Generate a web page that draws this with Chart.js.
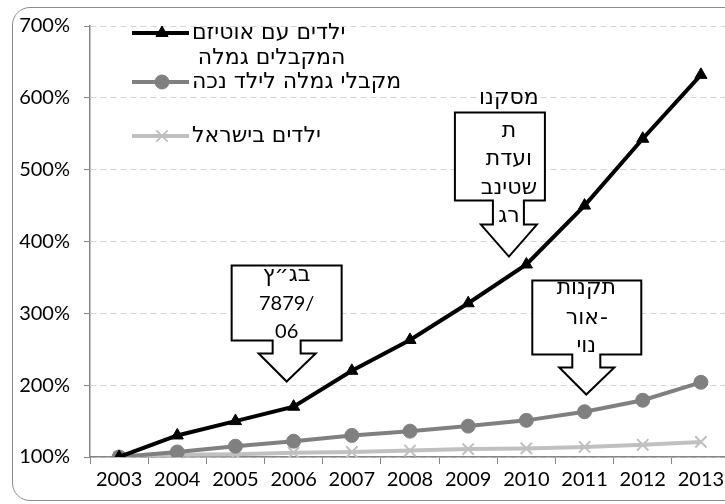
<!DOCTYPE html>
<html lang="he">
<head>
<meta charset="utf-8">
<script src="https://cdn.jsdelivr.net/npm/chart.js@4.4.1/dist/chart.umd.min.js"></script>
<style>
body { margin: 0; background: #fff; }
#wrap { position: relative; width: 725px; height: 504px; overflow: hidden; }
#frame { position: absolute; left: 12px; top: 7px; width: 760px; height: 492px; border: 1px solid #8c8c8c; border-radius: 18px; }
#grafica { position: absolute; left: 0; top: 0; }
</style>
</head>
<body>
<div id="wrap">
    <div id="frame"></div>
    <canvas id="grafica" width="740" height="504"></canvas>
</div>
<script>
const anys = ['2003', '2004', '2005', '2006', '2007', '2008', '2009', '2010', '2011', '2012', '2013'];

const autismeGamla = [100, 130, 150, 170, 220, 263, 314, 368, 450, 543, 632];
const gamlaNeche = [100, 107, 115, 122, 130, 136, 143, 151, 163, 179, 204];
const yeladimIsrael = [100, 103, 104, 106, 107, 109, 111, 112, 114, 117, 121];

const nomsSeries = [
    ['ילדים עם אוטיזם', 'המקבלים גמלה'],
    ['מקבלי גמלה לילד נכה'],
    ['ילדים בישראל']
];

const marquesY = [100, 200, 300, 400, 500, 600, 700];

// text of the three arrow callouts, and the point (year index, value) each arrow tip touches
const textosNotes = [
    ['בג״ץ', '7879/', '06'],
    ['מסקנו', 'ת', 'ועדת', 'שטינב', 'רג'],
    ['תקנות', 'אור-', 'נוי']
];
const puntaNotes = [
    [2.88, 205],
    [6.70, 379],
    [8.03, 187]
];

const FONT_NUM = "Lato, 'DejaVu Sans', sans-serif";
const FONT_HEB = "'DejaVu Sans', sans-serif";
const MIDA_HEB = 22;

// box/arrow geometry relative to the tip, and where each text line sits (relative to box top)
const formaNotes = [
    { l: -55, r: 55, t: -116, b: -41, sl: -14, sr: 14, sb: -28, hl: -28, hr: 29, linies: [10, 38, 66] },
    { l: -54, r: 36, t: -144, b: -56, sl: -16, sr: 15, sb: -32, hl: -28, hr: 28, linies: [-14, 19, 47, 76, 104] },
    { l: -54, r: 55, t: -114, b: -40, sl: -14, sr: 14, sb: -27, hl: -27, hr: 28, linies: [8, 38, 66] }
];

const esHebreu = t => /[\u0590-\u05FF]/.test(t);

function textCentrat(ctx, t, x, y) {
    if (esHebreu(t)) {
        ctx.font = MIDA_HEB + 'px ' + FONT_HEB;
        if (t.endsWith('-')) {
            // the hyphen sits on the right of the word, as in the original
            const cos = t.slice(0, -1);
            ctx.direction = 'ltr';
            const w1 = ctx.measureText(cos).width;
            const w2 = ctx.measureText('-').width;
            const x0 = x - (w1 + w2) / 2;
            ctx.textAlign = 'left';
            ctx.fillText(cos, x0, y);
            ctx.fillText('-', x0 + w1 + 1, y);
            return;
        }
        ctx.direction = 'rtl';
    } else {
        ctx.font = '20px ' + FONT_NUM;
        ctx.direction = 'ltr';
    }
    ctx.textAlign = 'center';
    ctx.fillText(t, x, y);
}

const pluginNotes = {
    id: 'notes',
    afterDatasetsDraw(chart) {
        const ctx = chart.ctx;
        const x = chart.scales.x;
        const y = chart.scales.y;
        ctx.save();
        puntaNotes.forEach((p, i) => {
            const tx = x.getPixelForValue(p[0]);
            const ty = y.getPixelForValue(p[1]);
            const f = formaNotes[i];
            ctx.beginPath();
            ctx.moveTo(tx + f.l, ty + f.t);
            ctx.lineTo(tx + f.r, ty + f.t);
            ctx.lineTo(tx + f.r, ty + f.b);
            ctx.lineTo(tx + f.sr, ty + f.b);
            ctx.lineTo(tx + f.sr, ty + f.sb);
            ctx.lineTo(tx + f.hr, ty + f.sb);
            ctx.lineTo(tx, ty);
            ctx.lineTo(tx + f.hl, ty + f.sb);
            ctx.lineTo(tx + f.sl, ty + f.sb);
            ctx.lineTo(tx + f.sl, ty + f.b);
            ctx.lineTo(tx + f.l, ty + f.b);
            ctx.closePath();
            ctx.fillStyle = '#fff';
            ctx.fill();
            ctx.lineWidth = 2;
            ctx.strokeStyle = '#000';
            ctx.stroke();

            ctx.fillStyle = '#000';
            ctx.textBaseline = 'middle';
            textosNotes[i].forEach((t, j) => {
                textCentrat(ctx, t, tx, ty + f.t + f.linies[j]);
            });
        });
        ctx.restore();
    }
};

const pluginLlegenda = {
    id: 'llegenda',
    afterDraw(chart) {
        const ctx = chart.ctx;
        const files = [33, 82, 136];
        ctx.save();
        ctx.font = MIDA_HEB + 'px ' + FONT_HEB;
        ctx.textBaseline = 'middle';
        chart.data.datasets.forEach((ds, i) => {
            const yy = files[i];
            ctx.strokeStyle = ds.borderColor;
            ctx.lineWidth = ds.borderWidth;
            ctx.beginPath();
            ctx.moveTo(132, yy);
            ctx.lineTo(189, yy);
            ctx.stroke();
            ctx.fillStyle = ds.pointBackgroundColor;
            ctx.lineWidth = ds.pointBorderWidth;
            Chart.helpers.drawPoint(ctx, {
                pointStyle: ds.pointStyle,
                radius: ds.pointRadius,
                rotation: 0,
                borderWidth: ds.pointBorderWidth
            }, 162, yy);

            ctx.fillStyle = '#000';
            ctx.direction = 'rtl';
            ctx.textAlign = 'left';
            const noms = nomsSeries[i];
            ctx.fillText(noms[0], 192, yy);
            if (noms[1]) {
                const dreta = 192 + ctx.measureText(noms[0]).width;
                ctx.textAlign = 'right';
                ctx.fillText(noms[1], dreta, yy + 25);
            }
        });
        ctx.restore();
    }
};

const ctx = document.getElementById('grafica').getContext('2d');

new Chart(ctx, {
    type: 'line',
    data: {
        labels: anys,
        datasets: [{
            label: nomsSeries[0].join(' '),
            data: autismeGamla,
            borderColor: '#000',
            borderWidth: 4,
            pointStyle: 'triangle',
            pointRadius: 7,
            pointBackgroundColor: '#000',
            pointBorderColor: '#000',
            pointBorderWidth: 1,
            tension: 0
        }, {
            label: nomsSeries[1].join(' '),
            data: gamlaNeche,
            borderColor: '#808080',
            borderWidth: 4,
            pointStyle: 'circle',
            pointRadius: 7,
            pointBackgroundColor: '#808080',
            pointBorderColor: '#808080',
            pointBorderWidth: 1,
            tension: 0
        }, {
            label: nomsSeries[2].join(' '),
            data: yeladimIsrael,
            borderColor: '#c0c0c0',
            borderWidth: 4,
            pointStyle: 'crossRot',
            pointRadius: 8,
            pointBackgroundColor: '#c0c0c0',
            pointBorderColor: '#c0c0c0',
            pointBorderWidth: 2,
            tension: 0
        }]
    },
    options: {
        responsive: false,
        animation: false,
        layout: { padding: { top: 22, right: 7, left: 0, bottom: 0 } },
        plugins: {
            legend: { display: false },
            tooltip: { enabled: false }
        },
        scales: {
            x: {
                offset: true,
                grid: { offset: true, drawOnChartArea: false, tickLength: 7, color: '#868686', lineWidth: 1 },
                border: { color: '#868686', width: 1.5 },
                ticks: { color: '#000', font: { family: FONT_NUM, size: 20 }, padding: 4, maxRotation: 0 },
                afterFit: s => { s.height = 47; }
            },
            y: {
                min: 100,
                max: 700,
                afterBuildTicks: s => { s.ticks = marquesY.map(v => ({ value: v })); },
                grid: { color: '#d4d4d4', tickLength: 6, tickColor: '#868686', tickBorderDash: [], lineWidth: 1 },
                border: { color: '#868686', width: 1.5, dash: [6, 4] },
                ticks: { color: '#000', font: { family: FONT_NUM, size: 20 }, padding: 14, callback: v => v + '%' },
                afterFit: s => { s.width = 90; }
            }
        }
    },
    plugins: [pluginNotes, pluginLlegenda]
});
</script>
</body>
</html>
